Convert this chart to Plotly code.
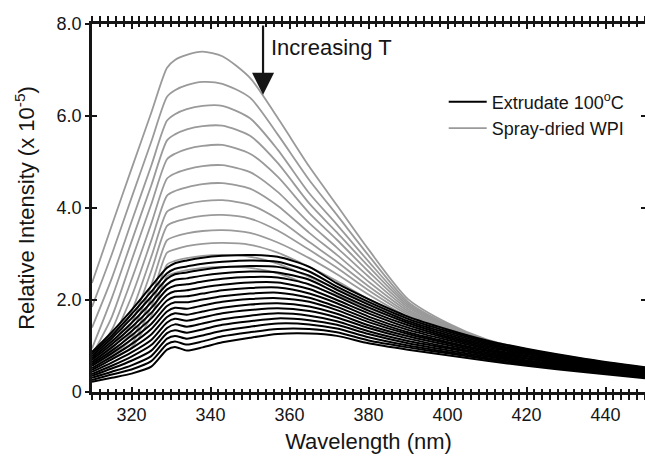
import plotly.graph_objects as go

WAVELENGTH = [310, 315, 320, 325, 329, 331, 334, 338, 343, 350, 357, 365, 372, 380, 390, 400, 410, 420, 435, 450]

# Spray-dried WPI spectra (relative intensity x 1e-5), top to bottom
WPI_01 = [2.37, 3.62, 4.85, 6.07, 7.05, 7.22, 7.33, 7.40, 7.30, 6.83, 5.96, 4.90, 4.06, 3.10, 2.02, 1.50, 1.14, 0.93, 0.71, 0.53]
WPI_02 = [1.85, 2.99, 4.22, 5.44, 6.42, 6.56, 6.67, 6.74, 6.70, 6.40, 5.60, 4.61, 3.85, 2.97, 1.96, 1.47, 1.13, 0.92, 0.70, 0.52]
WPI_03 = [1.40, 2.47, 3.70, 4.92, 5.90, 6.04, 6.15, 6.22, 6.22, 5.95, 5.27, 4.32, 3.64, 2.84, 1.92, 1.45, 1.12, 0.91, 0.70, 0.52]
WPI_04 = [0.95, 2.04, 3.27, 4.49, 5.47, 5.60, 5.71, 5.78, 5.79, 5.57, 4.98, 4.10, 3.47, 2.73, 1.88, 1.43, 1.11, 0.91, 0.69, 0.52]
WPI_05 = [0.80, 1.63, 2.86, 4.08, 5.06, 5.18, 5.28, 5.35, 5.37, 5.18, 4.68, 3.89, 3.31, 2.62, 1.84, 1.41, 1.10, 0.90, 0.69, 0.51]
WPI_06 = [0.75, 1.35, 2.44, 3.66, 4.64, 4.75, 4.84, 4.91, 4.93, 4.78, 4.35, 3.67, 3.14, 2.51, 1.80, 1.39, 1.09, 0.90, 0.68, 0.51]
WPI_07 = [0.72, 1.15, 2.07, 3.29, 4.27, 4.37, 4.45, 4.52, 4.54, 4.42, 4.05, 3.46, 2.98, 2.40, 1.76, 1.37, 1.08, 0.89, 0.68, 0.51]
WPI_08 = [0.70, 1.02, 1.75, 2.94, 3.92, 4.01, 4.09, 4.15, 4.17, 4.07, 3.76, 3.26, 2.83, 2.30, 1.72, 1.35, 1.07, 0.89, 0.68, 0.50]
WPI_09 = [0.68, 0.94, 1.50, 2.63, 3.61, 3.70, 3.77, 3.83, 3.85, 3.77, 3.51, 3.09, 2.70, 2.21, 1.68, 1.33, 1.06, 0.88, 0.67, 0.50]
WPI_10 = [0.66, 0.87, 1.30, 2.32, 3.30, 3.38, 3.45, 3.50, 3.52, 3.46, 3.25, 2.91, 2.56, 2.12, 1.64, 1.31, 1.05, 0.88, 0.67, 0.50]
WPI_11 = [0.64, 0.82, 1.15, 2.05, 3.03, 3.10, 3.17, 3.22, 3.24, 3.20, 3.03, 2.72, 2.41, 2.02, 1.60, 1.29, 1.04, 0.87, 0.66, 0.50]
WPI_12 = [0.62, 0.78, 1.05, 1.85, 2.77, 2.85, 2.91, 2.96, 2.98, 2.94, 2.79, 2.50, 2.24, 1.91, 1.55, 1.26, 1.03, 0.86, 0.66, 0.49]
WPI_13 = [0.60, 0.74, 0.97, 1.65, 2.52, 2.59, 2.65, 2.70, 2.72, 2.70, 2.58, 2.33, 2.10, 1.82, 1.50, 1.23, 1.01, 0.85, 0.65, 0.49]

# Extrudate 100 C spectra, top to bottom
EXT_01 = [0.87, 1.30, 1.78, 2.30, 2.70, 2.80, 2.86, 2.92, 2.96, 2.98, 2.94, 2.72, 2.36, 2.02, 1.64, 1.36, 1.12, 0.94, 0.72, 0.54]
EXT_02 = [0.83, 1.23, 1.69, 2.18, 2.58, 2.68, 2.73, 2.79, 2.83, 2.86, 2.83, 2.62, 2.29, 1.96, 1.59, 1.32, 1.09, 0.92, 0.70, 0.52]
EXT_03 = [0.78, 1.17, 1.60, 2.07, 2.46, 2.56, 2.60, 2.66, 2.71, 2.74, 2.72, 2.53, 2.22, 1.90, 1.54, 1.28, 1.06, 0.89, 0.68, 0.51]
EXT_04 = [0.74, 1.10, 1.50, 1.95, 2.34, 2.44, 2.47, 2.53, 2.58, 2.62, 2.60, 2.44, 2.15, 1.84, 1.50, 1.24, 1.03, 0.87, 0.66, 0.49]
EXT_05 = [0.70, 1.04, 1.41, 1.83, 2.23, 2.31, 2.34, 2.40, 2.46, 2.50, 2.49, 2.34, 2.08, 1.77, 1.45, 1.20, 1.00, 0.84, 0.64, 0.48]
EXT_06 = [0.65, 0.97, 1.32, 1.72, 2.11, 2.19, 2.21, 2.27, 2.33, 2.38, 2.38, 2.24, 2.00, 1.71, 1.40, 1.17, 0.97, 0.82, 0.62, 0.46]
EXT_07 = [0.61, 0.90, 1.23, 1.60, 1.99, 2.07, 2.08, 2.14, 2.21, 2.26, 2.27, 2.14, 1.93, 1.64, 1.35, 1.13, 0.94, 0.79, 0.60, 0.44]
EXT_08 = [0.57, 0.84, 1.14, 1.48, 1.87, 1.95, 1.95, 2.01, 2.08, 2.14, 2.16, 2.05, 1.85, 1.58, 1.30, 1.09, 0.91, 0.77, 0.58, 0.43]
EXT_09 = [0.52, 0.77, 1.04, 1.37, 1.75, 1.83, 1.81, 1.88, 1.96, 2.02, 2.04, 1.96, 1.78, 1.52, 1.26, 1.06, 0.89, 0.74, 0.57, 0.41]
EXT_10 = [0.48, 0.71, 0.95, 1.25, 1.63, 1.71, 1.68, 1.75, 1.83, 1.90, 1.93, 1.86, 1.70, 1.45, 1.21, 1.02, 0.86, 0.72, 0.55, 0.40]
EXT_11 = [0.44, 0.64, 0.86, 1.13, 1.51, 1.59, 1.55, 1.62, 1.71, 1.78, 1.82, 1.76, 1.62, 1.39, 1.16, 0.98, 0.83, 0.69, 0.53, 0.38]
EXT_12 = [0.39, 0.57, 0.77, 1.02, 1.39, 1.47, 1.42, 1.49, 1.58, 1.66, 1.71, 1.66, 1.54, 1.32, 1.11, 0.95, 0.80, 0.67, 0.51, 0.36]
EXT_13 = [0.35, 0.51, 0.68, 0.90, 1.28, 1.34, 1.29, 1.36, 1.46, 1.54, 1.60, 1.56, 1.46, 1.26, 1.06, 0.91, 0.77, 0.64, 0.49, 0.35]
EXT_14 = [0.31, 0.44, 0.58, 0.78, 1.16, 1.22, 1.16, 1.23, 1.33, 1.42, 1.49, 1.47, 1.38, 1.19, 1.01, 0.87, 0.74, 0.62, 0.47, 0.33]
EXT_15 = [0.26, 0.38, 0.49, 0.67, 1.04, 1.10, 1.03, 1.10, 1.21, 1.30, 1.37, 1.37, 1.30, 1.12, 0.97, 0.84, 0.71, 0.59, 0.45, 0.32]
EXT_16 = [0.22, 0.31, 0.40, 0.55, 0.92, 0.98, 0.90, 0.97, 1.08, 1.18, 1.26, 1.27, 1.22, 1.06, 0.92, 0.80, 0.68, 0.57, 0.43, 0.30]

WPI_SERIES = [WPI_01, WPI_02, WPI_03, WPI_04, WPI_05, WPI_06, WPI_07, WPI_08, WPI_09, WPI_10, WPI_11, WPI_12, WPI_13]
EXT_SERIES = [EXT_01, EXT_02, EXT_03, EXT_04, EXT_05, EXT_06, EXT_07, EXT_08, EXT_09, EXT_10, EXT_11, EXT_12, EXT_13, EXT_14, EXT_15, EXT_16]

X_TICKS = [320, 340, 360, 380, 400, 420, 440]
Y_TICKS = [0, 2, 4, 6, 8]
Y_TICK_TEXT = ["0", "2.0", "4.0", "6.0", "8.0"]

FONT = "Arial, Liberation Sans, sans-serif"
INK = "#151515"
GRAY = "#9a9a9a"

fig = go.Figure()

for i, ys in enumerate(WPI_SERIES):
    fig.add_trace(go.Scatter(
        x=WAVELENGTH, y=ys, mode="lines",
        line=dict(color=GRAY, width=1.8, shape="spline", smoothing=0.7),
        name="Spray-dried WPI", legendgroup="wpi", legendrank=2,
        showlegend=(i == 0), hoverinfo="skip"))

for i, ys in enumerate(EXT_SERIES):
    fig.add_trace(go.Scatter(
        x=WAVELENGTH, y=ys, mode="lines",
        line=dict(color="#000000", width=2.0, shape="spline", smoothing=0.7),
        name="Extrudate 100<sup>o</sup>C", legendgroup="ext", legendrank=1,
        showlegend=(i == 0), hoverinfo="skip"))

# empty helper traces so the overlay axes (crossing / mirrored ticks) are drawn
fig.add_trace(go.Scatter(x=[None], y=[None], xaxis="x2", yaxis="y", showlegend=False, hoverinfo="skip"))
fig.add_trace(go.Scatter(x=[None], y=[None], xaxis="x", yaxis="y2", showlegend=False, hoverinfo="skip"))
fig.add_trace(go.Scatter(x=[None], y=[None], xaxis="x", yaxis="y3", showlegend=False, hoverinfo="skip"))

fig.update_layout(
    width=645, height=457,
    margin=dict(l=92, r=0, t=24, b=65),
    paper_bgcolor="white", plot_bgcolor="white",
    font=dict(family=FONT, color=INK, size=18),
    xaxis=dict(
        range=[310, 450], tickvals=X_TICKS, ticks="outside", ticklen=5, tickwidth=2,
        tickcolor=INK, showline=True, linewidth=2.5, linecolor=INK, mirror="allticks",
        minor=dict(dtick=2, tick0=310, ticks="outside", ticklen=3, tickwidth=1.5, tickcolor=INK),
        showgrid=False, zeroline=False, tickfont=dict(size=18),
        title=dict(text="Wavelength (nm)", font=dict(size=22), standoff=10),
    ),
    xaxis2=dict(
        overlaying="x", matches="x", anchor="y", side="bottom", range=[310, 450],
        tickvals=X_TICKS, ticks="inside", ticklen=5, tickwidth=2, tickcolor=INK,
        showline=False, mirror="allticks", showticklabels=False, showgrid=False, zeroline=False,
        minor=dict(dtick=2, tick0=310, ticks="inside", ticklen=3, tickwidth=1.5, tickcolor=INK),
    ),
    yaxis=dict(
        range=[0, 8], tickvals=Y_TICKS, ticktext=Y_TICK_TEXT, ticks="outside", ticklen=4,
        tickwidth=2, tickcolor=INK, showline=True, linewidth=2.5, linecolor=INK, mirror=False,
        showgrid=False, zeroline=False, tickfont=dict(size=18),
        title=dict(text="Relative Intensity (x 10<sup>-5</sup>)", font=dict(size=22), standoff=16),
    ),
    yaxis2=dict(
        overlaying="y", anchor="x", side="left", range=[0, 8], tickvals=Y_TICKS,
        ticks="inside", ticklen=5, tickwidth=2, tickcolor=INK, showline=False,
        showticklabels=False, showgrid=False, zeroline=False,
    ),
    yaxis3=dict(
        overlaying="y", anchor="x", side="right", range=[0, 8], tickvals=[2, 4, 6],
        ticks="inside", ticklen=4, tickwidth=2, tickcolor=INK, showline=False,
        showticklabels=False, showgrid=False, zeroline=False,
    ),
    legend=dict(
        x=0.636, y=0.838, xanchor="left", yanchor="top", traceorder="grouped",
        tracegroupgap=0, itemwidth=38, bgcolor="rgba(0,0,0,0)", font=dict(size=18, color=INK),
    ),
    annotations=[
        dict(x=353.3, y=6.46, ax=353.3, ay=8.0, xref="x", yref="y", axref="x", ayref="y",
             text="", showarrow=True, arrowhead=2, arrowsize=2.0, arrowwidth=2.2,
             arrowcolor=INK, standoff=0),
        dict(x=354.7, y=7.5, xref="x", yref="y", text="Increasing T", showarrow=False,
             xanchor="left", yanchor="middle", font=dict(size=22, color=INK)),
    ],
)

fig.write_html("out.html")
